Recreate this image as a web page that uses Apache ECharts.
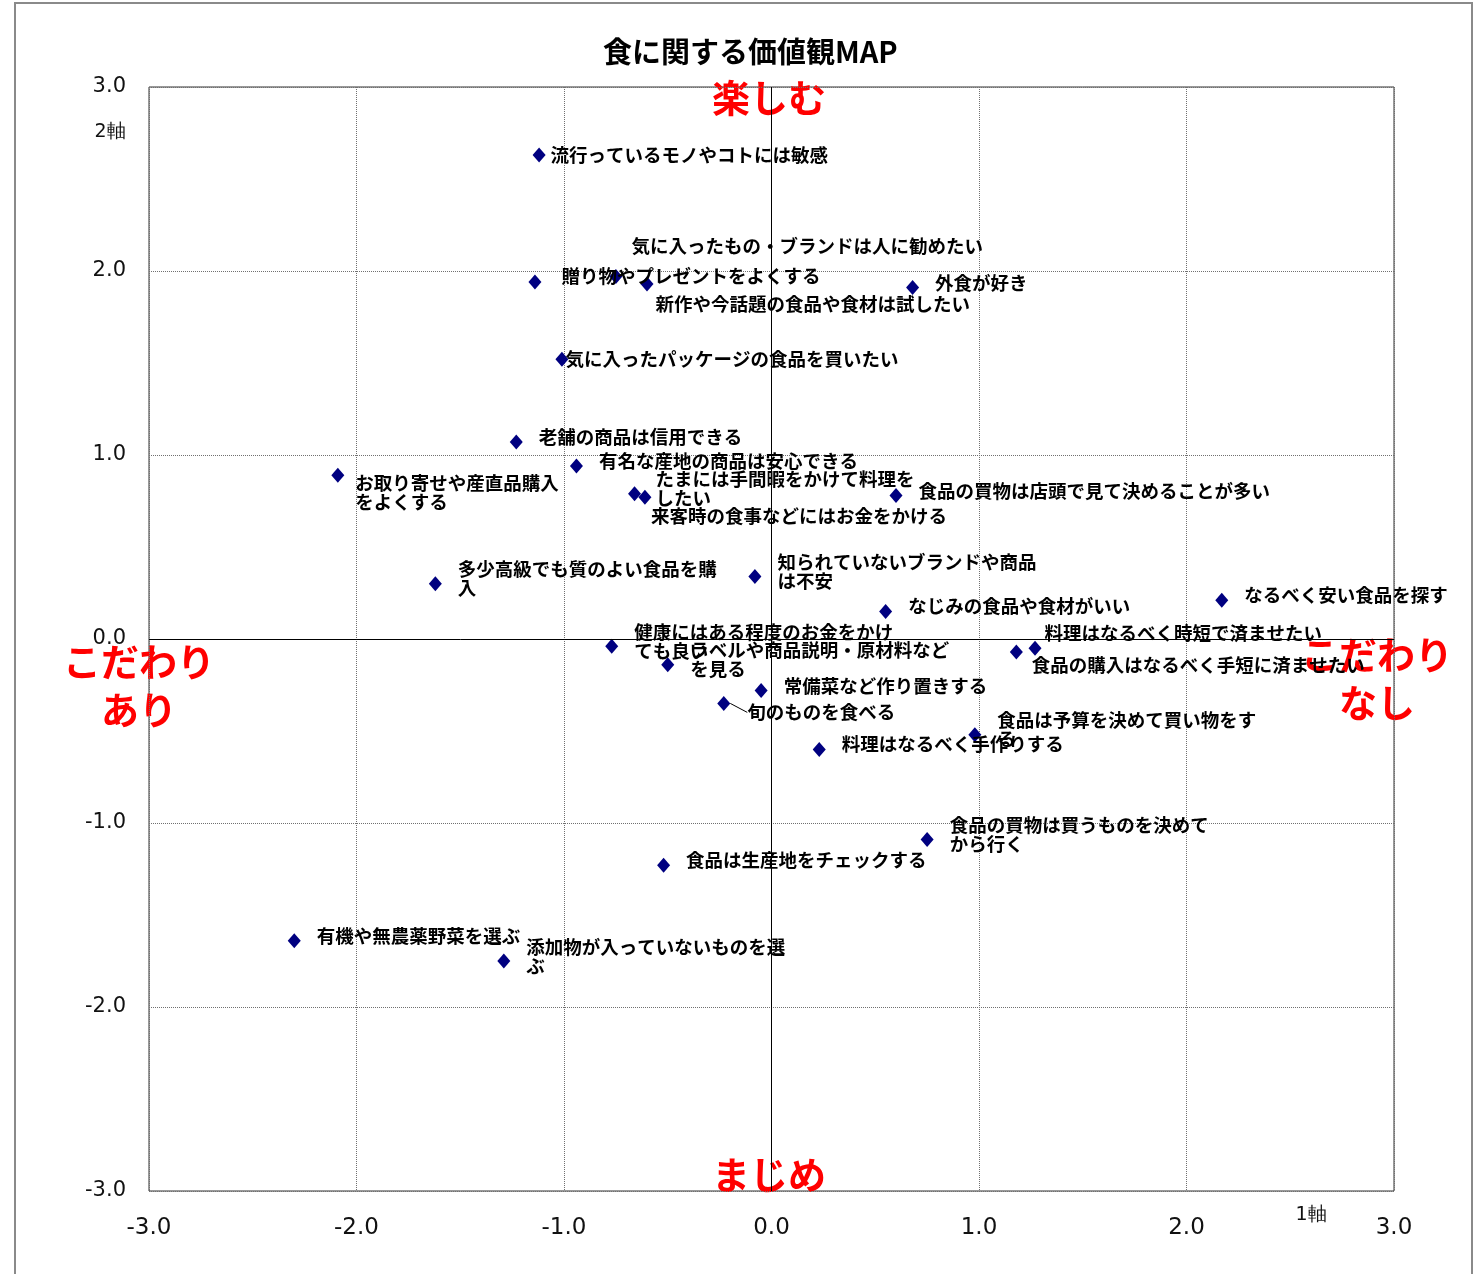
<!DOCTYPE html>
<html>
<head>
<meta charset="utf-8">
<script src="https://cdn.jsdelivr.net/npm/echarts@6/dist/echarts.min.js"></script>
<style>
html,body{margin:0;padding:0;background:#fff;}
#chart{width:1482px;height:1274px;}
</style>
</head>
<body>
<div id="chart"></div>
<script>
// ---- data ----
const itemNames = [
  '流行っているモノやコトには敏感',
  '気に入ったもの・ブランドは人に勧めたい',
  '贈り物やプレゼントをよくする',
  '外食が好き',
  '新作や今話題の食品や食材は試したい',
  '気に入ったパッケージの食品を買いたい',
  '老舗の商品は信用できる',
  '有名な産地の商品は安心できる',
  'お取り寄せや産直品購入\nをよくする',
  'たまには手間暇をかけて料理を\nしたい',
  '来客時の食事などにはお金をかける',
  '食品の買物は店頭で見て決めることが多い',
  '知られていないブランドや商品\nは不安',
  '多少高級でも質のよい食品を購\n入',
  'なるべく安い食品を探す',
  'なじみの食品や食材がいい',
  '健康にはある程度のお金をかけ\nても良い',
  'ラベルや商品説明・原材料など\nを見る',
  '料理はなるべく時短で済ませたい',
  '食品の購入はなるべく手短に済ませたい',
  '常備菜など作り置きする',
  '旬のものを食べる',
  '食品は予算を決めて買い物をす\nる',
  '料理はなるべく手作りする',
  '食品の買物は買うものを決めて\nから行く',
  '食品は生産地をチェックする',
  '有機や無農薬野菜を選ぶ',
  '添加物が入っていないものを選\nぶ'
];
const axis1 = [-1.12, -0.75, -1.14, 0.68, -0.60, -1.01, -1.23, -0.94, -2.09, -0.61, -0.66, 0.60, -0.08, -1.62, 2.17, 0.55, -0.77, -0.50, 1.27, 1.18, -0.05, -0.23, 0.98, 0.23, 0.75, -0.52, -2.30, -1.29];
const axis2 = [2.63, 1.97, 1.94, 1.91, 1.93, 1.52, 1.07, 0.94, 0.89, 0.77, 0.79, 0.78, 0.34, 0.30, 0.21, 0.15, -0.04, -0.14, -0.05, -0.07, -0.28, -0.35, -0.52, -0.60, -1.09, -1.23, -1.64, -1.75];
const tickValues = [-3, -2, -1, 0, 1, 2, 3];
const titleText = '食に関する価値観MAP';
const axis1Name = '1軸';
const axis2Name = '2軸';
const topNote = '楽しむ';
const bottomNote = 'まじめ';
const leftNote = 'こだわり\nあり';
const rightNote = 'こだわり\nなし';

// ---- label placement tweaks (layout only) ----
const defaultShift = [0, -5];
const labelShifts = {
  0: [-11, 0], 1: [-7, -31], 2: [4, -6], 4: [-14, 20], 5: [-19, 0],
  8: [-5, 17], 9: [-12, -9], 10: [-6, 22], 18: [-13, -15], 19: [-7, 13], 21: [1, 9]
};
const leaderIndex = 21;

const labelFont = '"Noto Sans CJK JP", "Noto Sans", sans-serif';
const tickFont = '"DejaVu Sans", Verdana, sans-serif';

const points = itemNames.map((n, i) => {
  const item = { name: n, value: [axis1[i], axis2[i]] };
  if (i === leaderIndex) item.labelLine = { show: true };
  return item;
});

const chart = echarts.init(document.getElementById('chart'));
const fmt = v => Number(v).toFixed(1);

chart.setOption({
  backgroundColor: '#fff',
  animation: false,
  title: {
    text: titleText, left: 598, top: 32,
    textStyle: { fontFamily: labelFont, fontWeight: 'bold', fontSize: 29, color: '#000' }
  },
  grid: { left: 149, right: 88, top: 87, bottom: 83, show: true, borderColor: '#333', borderWidth: 1 },
  xAxis: {
    type: 'value', min: tickValues[0], max: tickValues[tickValues.length - 1], interval: 1,
    axisLine: { show: false, onZero: false }, axisTick: { show: false },
    axisLabel: { formatter: fmt, fontFamily: tickFont, fontSize: 23, color: '#111', margin: 26 },
    splitLine: { show: true, lineStyle: { type: 'dotted', color: '#707070', width: 1 } }
  },
  yAxis: {
    type: 'value', min: tickValues[0], max: tickValues[tickValues.length - 1], interval: 1,
    axisLine: { show: false, onZero: false }, axisTick: { show: false },
    axisLabel: { formatter: fmt, fontFamily: tickFont, fontSize: 21, color: '#111', margin: 23 },
    splitLine: { show: true, lineStyle: { type: 'dotted', color: '#707070', width: 1 } }
  },
  series: [{
    type: 'scatter',
    symbol: 'diamond',
    symbolSize: [13, 15],
    itemStyle: { color: '#000080', opacity: 1 },
    data: points,
    label: {
      show: true, position: 'right', distance: 16,
      formatter: p => p.name,
      fontFamily: labelFont, fontWeight: 'bold', fontSize: 18.5, lineHeight: 19, color: '#000'
    },
    labelLine: { show: false, lineStyle: { color: '#000', width: 1 } },
    labelLayout: function (p) {
      const s = labelShifts[p.dataIndex] || defaultShift;
      return { dx: s[0], dy: s[1] };
    },
    markLine: {
      silent: true, symbol: 'none', animation: false,
      label: { show: false },
      lineStyle: { type: 'solid', color: '#000', width: 1 },
      data: [{ xAxis: 0 }, { yAxis: 0 }]
    },
    z: 3
  }],
  graphic: [
    { type: 'rect', shape: { x: 15, y: 3, width: 1457, height: 1320 }, style: { fill: 'none', stroke: '#8a8a8a', lineWidth: 2 }, z: -1, silent: true },
    { type: 'text', x: 110, y: 132, style: { text: axis2Name, fontFamily: tickFont, fontSize: 19, fill: '#111', textAlign: 'center', textVerticalAlign: 'middle' } },
    { type: 'text', x: 1311, y: 1215, style: { text: axis1Name, fontFamily: tickFont, fontSize: 19, fill: '#111', textAlign: 'center', textVerticalAlign: 'middle' } },
    { type: 'text', x: 769, y: 98, style: { text: topNote, fontFamily: labelFont, fontWeight: 'bold', fontSize: 38, fill: '#ff0000', textAlign: 'center', textVerticalAlign: 'middle' } },
    { type: 'text', x: 769, y: 1175, style: { text: bottomNote, fontFamily: labelFont, fontWeight: 'bold', fontSize: 38, fill: '#ff0000', textAlign: 'center', textVerticalAlign: 'middle' } },
    { type: 'text', x: 139, y: 686, style: { text: leftNote, fontFamily: labelFont, fontWeight: 'bold', fontSize: 38, lineHeight: 48, fill: '#ff0000', textAlign: 'center', textVerticalAlign: 'middle' } },
    { type: 'text', x: 1377, y: 679, style: { text: rightNote, fontFamily: labelFont, fontWeight: 'bold', fontSize: 38, lineHeight: 48, fill: '#ff0000', textAlign: 'center', textVerticalAlign: 'middle' } }
  ]
});
</script>
</body>
</html>
